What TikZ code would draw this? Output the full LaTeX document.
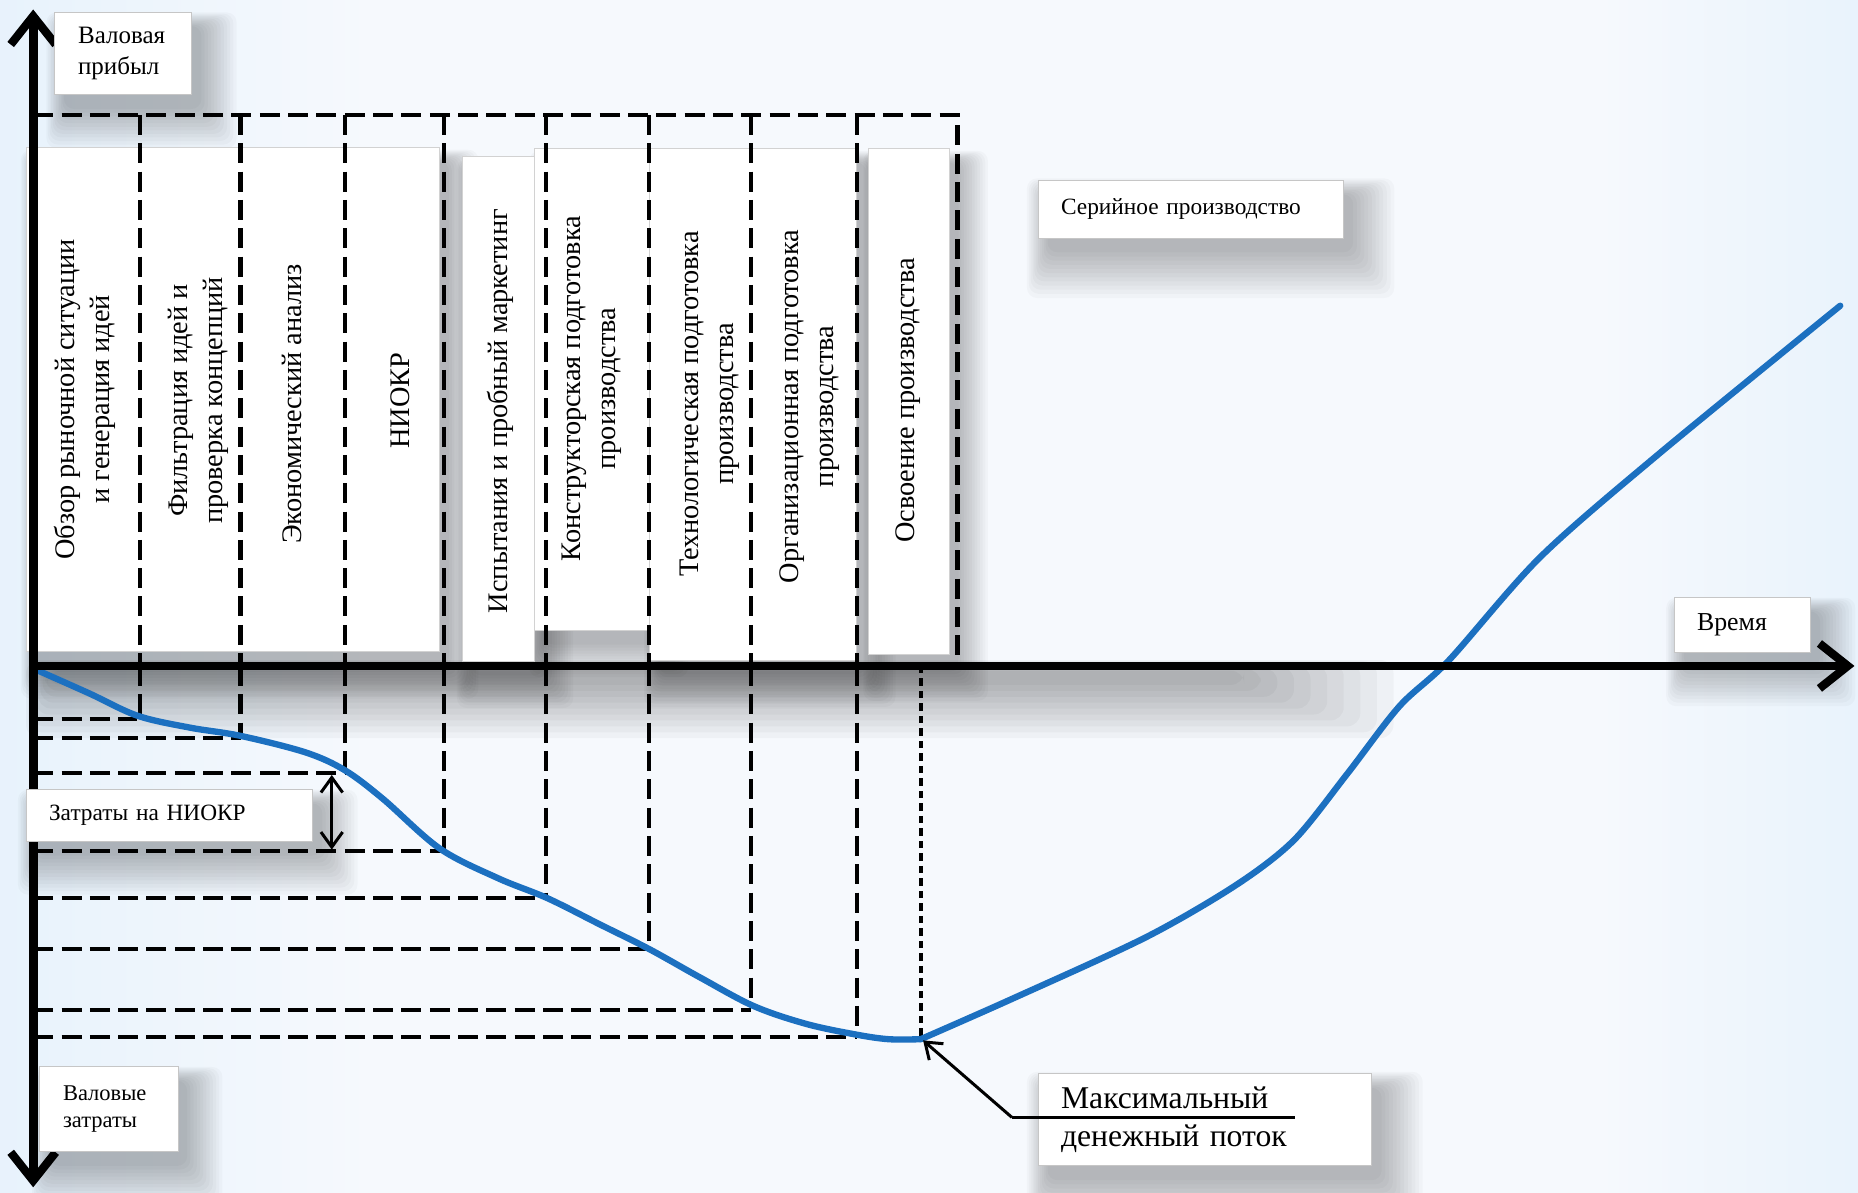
\documentclass[tikz,border=0pt]{standalone}
\usepackage{fontspec}
\setmainfont{Liberation Serif}
\usetikzlibrary{arrows.meta}
\definecolor{curveblue}{RGB}{28,112,192}
\definecolor{bgblue}{RGB}{150,202,242}
\definecolor{bgl}{RGB}{210,232,250}
\definecolor{bgmid}{RGB}{246,249,253}
\definecolor{bgr}{RGB}{214,234,250}
\pgfdeclarehorizontalshading{bgsh}{100bp}{color(0bp)=(bgblue); color(10bp)=(bgl); color(35bp)=(bgmid); color(68bp)=(bgmid); color(85bp)=(bgr); color(100bp)=(bgblue)}
\newcommand{\blurshadow}[5]{%
  \foreach \k in {0,...,11}{%
    \fill[black, opacity=0.024, rounded corners=6pt]
      ({#1+8-\k*#5*0.45},{#2+12-\k*#5*0.35}) rectangle ({#3+8+\k*#5*0.9},{#4+12+\k*#5});
  }}
\tikzset{
  axisline/.style={line width=5.2pt, black},
  dashln/.style={line width=2.5pt, black, dash pattern=on 12pt off 5pt},
  dotln/.style={line width=2.4pt, black, dash pattern=on 4.5pt off 3pt},
  lbl/.style={draw=gray!45, line width=0.5pt, fill=white, align=left, inner ysep=0pt, inner xsep=13.5pt, anchor=center},
  stagetxt/.style={rotate=90, align=center, font=\fontsize{17}{21}\selectfont, inner sep=0pt},
  stagebg/.style={fill=white, draw=gray!35, line width=0.4pt},
  bigtip/.style={-{Straight Barb[length=17pt,width=27pt,line width=5pt]}},
  smalltip/.style={{Straight Barb[length=9pt,width=13pt,line width=1.8pt]}-{Straight Barb[length=9pt,width=13pt,line width=1.8pt]}},
  ptrtip/.style={-{Straight Barb[length=9pt,width=13pt,line width=1.8pt]}}
}
\begin{document}
\begin{tikzpicture}[x=0.025cm, y=-0.025cm]
\useasboundingbox (0,0) rectangle (1568,1006);
\shade[shading=bgsh] (0,0) rectangle (1568,1006);
% axis shadow
\foreach \k in {0,...,9}{\fill[black, opacity=0.03, rounded corners=8pt] ({40-\k*2},{566-\k*1}) rectangle ({1050+\k*14},{578+\k*5});}
% shadows of stage boxes
\blurshadow{22}{124}{371}{550}{2.5}
\blurshadow{390}{132}{451}{558}{2.5}
\blurshadow{451}{125}{548}{532}{2.5}
\blurshadow{548}{125}{723}{557}{2.5}
\blurshadow{733}{125}{801}{552}{2.5}
% shadows of labels
\blurshadow{46}{10}{162}{80}{3}
\blurshadow{876}{152}{1134}{201}{3.5}
\blurshadow{1413}{504}{1528}{551}{3}
\blurshadow{22}{666}{264}{710}{3}
\blurshadow{34}{900}{150}{972}{3}
\blurshadow{876}{906}{1158}{984}{3.5}
% stage backgrounds
\draw[stagebg] (22,124) rectangle (371,550);
\draw[stagebg] (390,132) rectangle (451,558);
\draw[stagebg] (451,125) rectangle (548,532);
\draw[stagebg] (548,125) rectangle (723,557);
\draw[stagebg] (733,125) rectangle (801,552);
% stage texts
\node[stagetxt] (s1) at (72,337) {Обзор рыночной ситуации\\и генерация идей};
\node[stagetxt] (s2) at (167,338) {Фильтрация идей и\\проверка концепций};
\node[stagetxt] (s3) at (246,341) {Экономический анализ};
\node[stagetxt] (s4) at (338,338) {НИОКР};
\node[stagetxt] (s5) at (422,347) {Испытания и пробный маркетинг};
\node[stagetxt] (s6) at (499,328) {Конструкторская подготовка\\производства};
\node[stagetxt] (s7) at (599,341) {Технологическая подготовка\\производства};
\node[stagetxt] (s8) at (683,343) {Организационная подготовка\\производства};
\node[stagetxt] (s9) at (766,338) {Освоение производства};
% top dashed frame
\draw[dashln] (28,97) -- (808,97) -- (808,562);
\foreach \xx in {118,203,291,375,461,548,634,723}{\draw[dashln] (\xx,97) -- (\xx,562);}
% lower dashed verticals
\draw[dashln] (118,562) -- (118,604);
\draw[dashln] (203,562) -- (203,620);
\draw[dashln] (291,562) -- (291,650);
\draw[dashln] (375,562) -- (375,717);
\draw[dashln] (461,562) -- (461,757);
\draw[dashln] (548,562) -- (548,801);
\draw[dashln] (634,562) -- (634,849);
\draw[dashln] (723,562) -- (723,873);
\draw[dotln] (777,562) -- (777,877);
% horizontal dashed levels
\draw[dashln] (28,607) -- (116,607);
\draw[dashln] (28,623) -- (203,623);
\draw[dashln] (28,652) -- (291,652);
\draw[dashln] (28,718) -- (375,718);
\draw[dashln] (28,758) -- (461,758);
\draw[dashln] (28,801) -- (548,801);
\draw[dashln] (28,852) -- (634,852);
\draw[dashln] (28,875) -- (723,875);
% curve
\coordinate (cmin) at (777,877);
\draw[curveblue, line width=3.8pt, line cap=round] plot[smooth, tension=0.55] coordinates {(30,565) (75,585) (116,604) (160,614) (203,621) (258,635) (291,650) (323,674) (371,716) (420,741) (462,758) (506,780) (548,801) (591,825) (636,849) (680,864) (722,873) (750,877) (777,877)};
\draw[curveblue, line width=3.8pt, line cap=round] plot[smooth, tension=0.5] coordinates {(777,877) (854,843) (967,791) (1043,747) (1092,709) (1137,653) (1181,596) (1223,557) (1300,470) (1400,383) (1553,258)};
% axes
\coordinate (O) at (28,562);
\coordinate (ytop) at (28,8);
\coordinate (ybot) at (28,1002);
\coordinate (xend) at (1565,562);
\draw[axisline, bigtip] (O) -- (ytop);
\draw[axisline, bigtip] (O) -- (ybot);
\draw[axisline, bigtip] (O) -- (xend);
% NIOKR cost arrow
\coordinate (rd1) at (280,654);
\coordinate (rd2) at (280,717);
\draw[line width=1.8pt, smalltip] (rd1) -- (rd2);
% labels
\node[lbl, text width=54.2pt, inner xsep=14pt, minimum height=49.6pt, font=\fontsize{15}{18.5}\selectfont] (vp) at (104,45) {Валовая\\прибыл};
\node[lbl, text width=155.8pt, minimum height=34.7pt, font=\fontsize{14}{17}\selectfont] (sp) at (1005,176.5) {Серийное производство};
\node[lbl, text width=54.5pt, minimum height=33.3pt, font=\fontsize{15.5}{18}\selectfont] (vr) at (1470.5,527.5) {Время};
\node[lbl, text width=144.5pt, minimum height=31.2pt, font=\fontsize{14}{17}\selectfont] (zn) at (143,688) {Затраты на НИОКР};
\node[lbl, text width=55.2pt, inner xsep=14pt, minimum height=51pt, font=\fontsize{13.5}{16}\selectfont] (vz) at (92,936) {Валовые\\затраты};
\node[lbl, text width=172.9pt, minimum height=55.3pt, font=\fontsize{19}{22.7}\selectfont] (mx) at (1017,945) {Максимальный\\денежный поток};
% pointer
\coordinate (ul) at (854,943);
\coordinate (ur) at (1093,943);
\coordinate (ctip) at (779,878);
\draw[line width=1.8pt] (ul) -- (ur);
\draw[line width=1.8pt, ptrtip] (ul) -- (ctip);
\end{tikzpicture}
\end{document}
